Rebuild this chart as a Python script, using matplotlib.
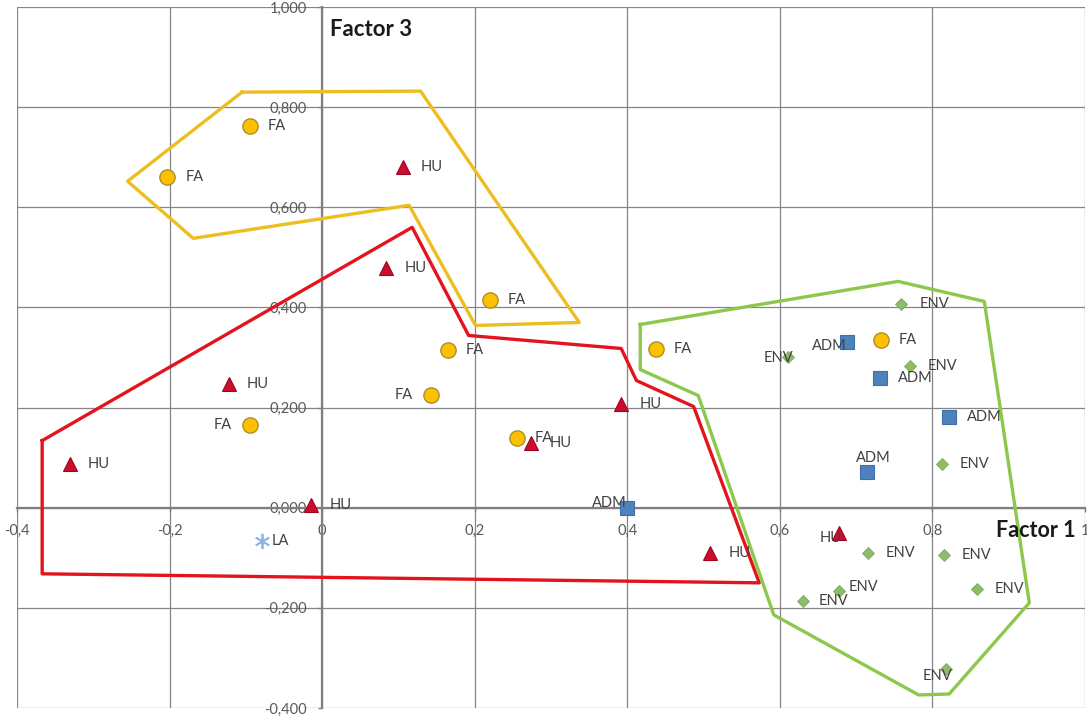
import matplotlib.pyplot as plt
from matplotlib.ticker import FuncFormatter, MultipleLocator

plt.rcParams['font.family'] = ['Lato', 'DejaVu Sans']

# factor scores (Factor 1, Factor 3) for each group
fa_x = [-0.095, -0.203, 0.220, 0.165, 0.143, -0.095, 0.255, 0.437, 0.732]
fa_y = [0.762, 0.660, 0.414, 0.314, 0.226, 0.166, 0.140, 0.316, 0.334]

hu_x = [0.106, 0.084, -0.122, -0.331, -0.014, 0.274, 0.392, 0.509, 0.677]
hu_y = [0.680, 0.478, 0.248, 0.088, 0.006, 0.130, 0.208, -0.090, -0.050]

adm_x = [0.400, 0.688, 0.731, 0.822, 0.714]
adm_y = [0.000, 0.330, 0.260, 0.182, 0.072]

env_x = [0.759, 0.611, 0.770, 0.812, 0.715, 0.815, 0.858, 0.678, 0.630, 0.818]
env_y = [0.406, 0.300, 0.284, 0.088, -0.090, -0.094, -0.162, -0.166, -0.186, -0.322]

la_x = [-0.079]
la_y = [-0.066]

# hand-drawn cluster outlines
yellow_x = [-0.105, 0.129, 0.337, 0.201, 0.114, -0.169, -0.255, -0.105]
yellow_y = [0.830, 0.832, 0.370, 0.364, 0.604, 0.538, 0.652, 0.830]

red_x = [-0.367, 0.118, 0.192, 0.392, 0.412, 0.487, 0.573, -0.367, -0.367]
red_y = [0.134, 0.560, 0.344, 0.318, 0.254, 0.202, -0.150, -0.132, 0.134]

green_x = [0.417, 0.755, 0.868, 0.927, 0.822, 0.782, 0.592, 0.493, 0.417, 0.417]
green_y = [0.366, 0.452, 0.412, -0.190, -0.372, -0.374, -0.214, 0.224, 0.276, 0.366]

# label placement (dx, dy in pixels, ha)
R = (18, 0, 'left')
L = (-18, 0, 'right')
fa_lab = [R, R, R, R, L, L, R, R, R]
hu_lab = [R, R, R, R, R, R, R, R, (-8, -5, 'center')]
adm_lab = [(-1, 5, 'right'), (0, -4, 'right'), R, R, (7, 14, 'center')]
env_lab = [R, (5, 0, 'right'), R, R, R, R, R, (9, 4, 'left'), (16, 0, 'left'),
           (-9, -7, 'center')]
la_lab = [(10, 0, 'left')]

fig = plt.figure(figsize=(10.87, 7.18), dpi=100)
ax = fig.add_axes([17 / 1087, 10 / 718, 1068 / 1087, 701 / 718])
ax.set_xlim(-0.4, 1.0)
ax.set_ylim(-0.4, 1.0)

ax.xaxis.set_major_locator(MultipleLocator(0.2))
ax.yaxis.set_major_locator(MultipleLocator(0.2))
ax.xaxis.set_major_formatter(FuncFormatter(lambda v, p: ('%g' % round(v, 2)).replace('.', ',')))
ax.yaxis.set_major_formatter(FuncFormatter(lambda v, p: ('%.3f' % v).replace('.', ',').replace('-0,000', '0,000')))
ax.grid(True, color='#858585', linewidth=0.9, zorder=0)
ax.set_axisbelow(True)

for s in ['top', 'right']:
    ax.spines[s].set_visible(False)
ax.spines['left'].set_position(('data', 0))
ax.spines['bottom'].set_position(('data', 0))
for s in ['left', 'bottom']:
    ax.spines[s].set_color('#7f7f7f')
    ax.spines[s].set_linewidth(1.6)
ax.tick_params(axis='x', direction='out', length=3, width=1, color='#7f7f7f',
               pad=9, labelsize=10.5, labelcolor='#595959')
ax.tick_params(axis='y', direction='out', length=3, width=1, color='#7f7f7f',
               pad=8, labelsize=10.5, labelcolor='#595959')

# outlines
ax.plot(yellow_x, yellow_y, color='#EDBE1F', lw=2.4, zorder=3)
ax.plot(red_x, red_y, color='#E3141E', lw=2.4, zorder=3)
ax.plot(green_x, green_y, color='#8CC84B', lw=2.4, zorder=3)

# points
ax.plot(fa_x, fa_y, 'o', ms=11, mfc='#FFC000', mec='#A8902C', mew=1, ls='none', zorder=5)
ax.plot(hu_x, hu_y, '^', ms=10, mfc='#C8102E', mec='#A00020', mew=0.8, ls='none', zorder=5)
ax.plot(adm_x, adm_y, 's', ms=10, mfc='#4F81BD', mec='#3F6FA8', mew=0.8, ls='none', zorder=5)
ax.plot(env_x, env_y, 'D', ms=6.5, mfc='#8FBC6A', mec='#7AAA58', mew=0.6, ls='none', zorder=5)
ax.plot(la_x, la_y, marker=(6, 2, 0), ms=11, mec='#8EB4E3', mew=1.3, ls='none', zorder=5)


def put_labels(xs, ys, text, places):
    for x, y, (dx, dy, ha) in zip(xs, ys, places):
        ax.annotate(text, (x, y), xytext=(dx, dy), textcoords='offset pixels',
                    ha=ha, va='center', fontsize=10.5, color='#404040', zorder=6)


put_labels(fa_x, fa_y, 'FA', fa_lab)
put_labels(hu_x, hu_y, 'HU', hu_lab)
put_labels(adm_x, adm_y, 'ADM', adm_lab)
put_labels(env_x, env_y, 'ENV', env_lab)
put_labels(la_x, la_y, 'LA', la_lab)

ax.text(0.0105, 0.956, 'Factor 3', fontsize=16, fontweight='bold', color='#1a1a1a',
        ha='left', va='center')
ax.text(0.883, -0.046, 'Factor 1', fontsize=15.5, fontweight='bold', color='#1a1a1a',
        ha='left', va='center')

fig.savefig('out.png', dpi=100)
